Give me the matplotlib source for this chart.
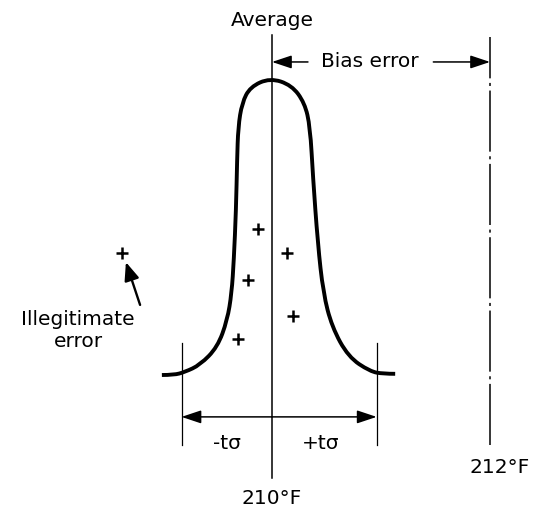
import matplotlib
matplotlib.use("Agg")
import matplotlib.pyplot as plt
from matplotlib.path import Path
from matplotlib.patches import PathPatch

# Temperatures (deg F)
mean_temp = 210.0
true_temp = 212.0
minus_t_sigma = -0.83   # offset of the -t sigma limit from the mean
plus_t_sigma = 0.96     # offset of the +t sigma limit from the mean

# Distribution outline, offsets from the mean (deg F) and relative frequency
left_dx = [-1.01, -0.90, -0.80, -0.66, -0.50, -0.41, -0.37, -0.35, -0.33, -0.32, -0.31, -0.275, -0.20, -0.018]
left_freq = [0.0, 0.0, 0.01, 0.034, 0.094, 0.185, 0.276, 0.387, 0.556, 0.724, 0.835, 0.916, 0.97, 1.0]
right_dx = [0.0, 0.18, 0.30, 0.35, 0.376, 0.42, 0.47, 0.55, 0.70, 0.90, 1.02, 1.13]
right_freq = [1.0, 0.976, 0.916, 0.835, 0.667, 0.444, 0.276, 0.162, 0.061, 0.012, 0.004, 0.004]

# Individual readings (offset from mean, relative height)
reading_dx = [-0.13, -0.22, -0.31, 0.14, 0.19]
reading_y = [0.49, 0.32, 0.12, 0.41, 0.20]
outlier_dx = [-1.38]
outlier_y = [0.41]


def smooth_path(xs, ys):
    """Quadratic B-spline style path through a polyline of control points."""
    pts = list(zip(xs, ys))
    verts = [pts[0]]
    codes = [Path.MOVETO]
    for i in range(1, len(pts) - 2):
        mid = ((pts[i][0] + pts[i + 1][0]) / 2, (pts[i][1] + pts[i + 1][1]) / 2)
        verts += [pts[i], mid]
        codes += [Path.CURVE3, Path.CURVE3]
    verts += [pts[-2], pts[-1]]
    codes += [Path.CURVE3, Path.CURVE3]
    return Path(verts, codes)


fig = plt.figure(figsize=(5.37, 5.16), dpi=100)
ax = fig.add_axes([0, 0, 1, 1])
ax.set_xlim(207.505, 212.431)
ax.set_ylim(-0.4747, 1.2626)
ax.axis("off")

ink = "black"
fs = 14.5
font = dict(family="DejaVu Sans", color=ink)

# Distribution curve
xs = [mean_temp + d for d in left_dx + right_dx[1:]]
ys = left_freq + right_freq[1:]
ax.add_patch(PathPatch(smooth_path(xs, ys), fill=False, lw=2.8, color=ink,
                       capstyle="butt", joinstyle="round"))

# Mean line and true-value line
ax.plot([mean_temp, mean_temp], [-0.347, 1.145], color=ink, lw=1.1)
ax.plot([true_temp, true_temp], [-0.236, 1.138], color=ink, lw=1.1,
        linestyle=(0, (40, 3, 2, 3)))

# +/- t sigma limits
for d in (minus_t_sigma, plus_t_sigma):
    ax.plot([mean_temp + d] * 2, [-0.236, 0.108], color=ink, lw=0.9)

arrow_kw = dict(arrowstyle="-|>,head_length=1.2,head_width=0.4", color=ink,
                lw=1.1, shrinkA=0, shrinkB=0)
y_sig = -0.141
ax.annotate("", xy=(mean_temp + minus_t_sigma, y_sig), xytext=(mean_temp, y_sig),
            arrowprops=arrow_kw)
ax.annotate("", xy=(mean_temp + plus_t_sigma, y_sig), xytext=(mean_temp, y_sig),
            arrowprops=arrow_kw)

# Bias error arrows
y_bias = 1.054
ax.annotate("", xy=(mean_temp, y_bias), xytext=(mean_temp + 0.33, y_bias),
            arrowprops=arrow_kw)
ax.annotate("", xy=(true_temp, y_bias), xytext=(true_temp - 0.52, y_bias),
            arrowprops=arrow_kw)
ax.text(210.90, y_bias, "Bias error", ha="center", va="center", fontsize=fs, **font)

# Readings
ax.plot([mean_temp + d for d in reading_dx], reading_y, linestyle="none",
        marker="+", ms=8, mew=1.8, color=ink)
ax.plot([mean_temp + d for d in outlier_dx], outlier_y, linestyle="none",
        marker="+", ms=8, mew=1.8, color=ink)

# Pointer to the outlier
ax.annotate("", xy=(208.66, 0.38), xytext=(208.79, 0.236),
            arrowprops=dict(arrowstyle="-|>,head_length=1.1,head_width=0.45",
                            color=ink, lw=1.7, shrinkA=0, shrinkB=0))
ax.text(208.22, 0.15, "Illegitimate\nerror", ha="center", va="center",
        fontsize=fs, linespacing=1.25, **font)

# Labels
ax.text(mean_temp, 1.195, "Average", ha="center", va="center", fontsize=fs, **font)
ax.text(209.59, -0.23, "-t\u03c3", ha="center", va="center", fontsize=fs, **font)
ax.text(210.45, -0.23, "+t\u03c3", ha="center", va="center", fontsize=fs, **font)
ax.text(mean_temp, -0.415, "210\u00b0F", ha="center", va="center", fontsize=fs, **font)
ax.text(212.09, -0.31, "212\u00b0F", ha="center", va="center", fontsize=fs, **font)

fig.savefig("out.png", dpi=100, facecolor="white")
